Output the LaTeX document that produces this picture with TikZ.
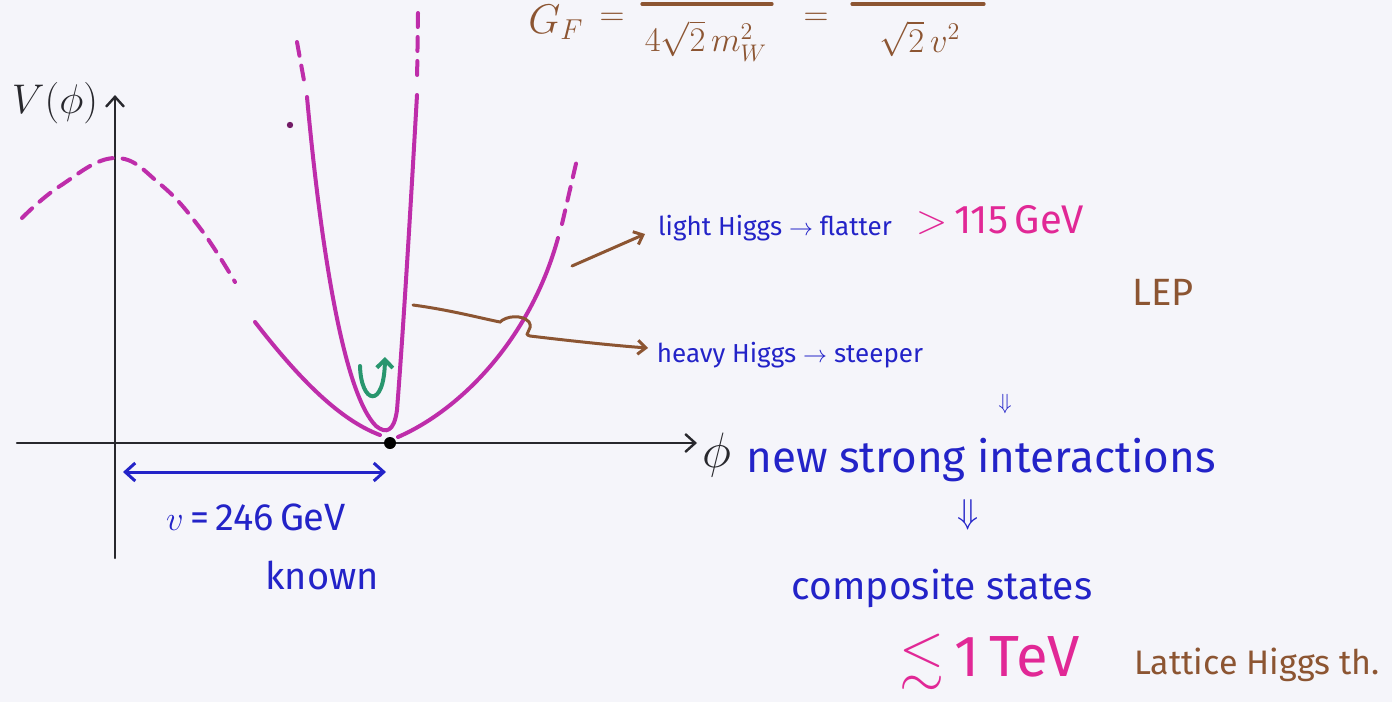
\documentclass[tikz,border=0pt]{standalone}
\usepackage{amssymb}
\usepackage{fontspec}
\setmainfont{Fira Sans}
\usetikzlibrary{arrows.meta}
\definecolor{bgC}{RGB}{245,245,250}
\definecolor{curveC}{RGB}{190,45,170}
\definecolor{pinkT}{RGB}{225,40,150}
\definecolor{blueT}{RGB}{35,35,200}
\definecolor{brownT}{RGB}{140,85,50}
\definecolor{greenT}{RGB}{40,150,110}
\definecolor{inkC}{RGB}{40,40,45}
\begin{document}
\begin{tikzpicture}[x=0.5pt,y=-0.5pt,
  axis/.style={draw=inkC,line width=1.2pt,line cap=round},
  curve/.style={draw=curveC,line width=2pt,line cap=round},
  dcurve/.style={curve,dash pattern=on 7pt off 5pt},
  blueline/.style={draw=blueT,line width=1.5pt,line cap=round},
  brownline/.style={draw=brownT,line width=1.5pt,line cap=round},
  greenline/.style={draw=greenT,line width=2pt,line cap=round},
  barb/.style={-{Straight Barb[length=5pt,width=9pt]}},
  lbl/.style={inner sep=0pt,anchor=center},
  bluetxt/.style={lbl,text=blueT},
  browntxt/.style={lbl,text=brownT},
  pinktxt/.style={lbl,text=pinkT},
  fracbar/.style={draw=brownT,line width=1.6pt,line cap=round}]
\fill[bgC] (0,0) rectangle (1392,702);
\useasboundingbox (0,0) rectangle (1392,702);
\clip (0,0) rectangle (1392,702);

% formula at the top
\node[browntxt,font=\fontsize{21}{24}\selectfont] (gf) at (556,22) {$G_F$};
\node[browntxt,font=\fontsize{17}{20}\selectfont] (eq1) at (612,19) {$=$};
\node[browntxt,font=\fontsize{18}{22}\selectfont] (den1) at (706,41) {$4\sqrt{2}\,m_W^2$};
\node[browntxt,font=\fontsize{17}{20}\selectfont] (eq2) at (816,19) {$=$};
\node[browntxt,font=\fontsize{18}{22}\selectfont] (den2) at (920,39) {$\sqrt{2}\,v^2$};
\coordinate (b1l) at (642,4); \coordinate (b1r) at (772,4);
\coordinate (b2l) at (852,4); \coordinate (b2r) at (984,4);
\draw[fracbar] (b1l) -- (b1r);
\draw[fracbar] (b2l) -- (b2r);

% axes
\coordinate (ybot) at (115,558);
\coordinate (ytop) at (115,95);
\coordinate (xl) at (17,443);
\coordinate (xr) at (697,443);
\draw[axis,barb] (ybot) -- (ytop);
\draw[axis,barb] (xl) -- (xr);
\node[lbl,text=inkC,font=\fontsize{22}{24}\selectfont] (vphi) at (55,103) {$V(\phi)$};
\node[lbl,text=inkC,font=\fontsize{24}{26}\selectfont] (phi) at (717,455) {$\phi$};

% dashed hump
\draw[dcurve] plot[smooth,tension=0.7] coordinates {(22,218) (60,186) (115,158) (160,184) (200,228) (235,282)};

% wide (light Higgs) parabola
\draw[curve] (255,322) .. controls (300,380) and (340,420) .. (380,435);
\draw[curve] (398,437) .. controls (460,410) and (530,340) .. (558,238);
\draw[dcurve] (562,224) -- (578,155);

% narrow (heavy Higgs) parabola
\draw[curve] (307,97) .. controls (322,260) and (345,395) .. (376,426)
  .. controls (386,434) and (394,432) .. (397,410)
  .. controls (404,320) and (411,200) .. (417,95);
\draw[dcurve] (297,42) -- (305,86);
\draw[dcurve] (418,13) -- (417,84);
\fill[curveC!60!black] (290,125) circle (1.6pt);

% minimum
\node[circle,fill=black,inner sep=0pt,minimum size=6pt] (vev) at (390,443) {};

% green arrow
\coordinate (ga) at (360,366);
\coordinate (gb) at (385,357);
\draw[greenline,-{Straight Barb[length=4pt,width=8pt]}] (ga) .. controls (361,404) and (384,410) .. (gb);

% v arrow
\coordinate (va) at (123,472);
\coordinate (vb) at (386,472);
\draw[blueline,{Straight Barb[length=5pt,width=9pt]}-{Straight Barb[length=5pt,width=9pt]}] (va) -- (vb);
\node[bluetxt,font=\fontsize{19}{22}\selectfont] (vval) at (256,517) {$v$\,=\,246\,GeV};
\node[bluetxt,font=\fontsize{19}{22}\selectfont] (known) at (322,575) {known};

% right-hand texts
\node[bluetxt,font=\fontsize{13}{16}\selectfont] (light) at (775,228) {light Higgs $\rightarrow$ flatter};
\node[pinktxt,font=\fontsize{20}{24}\selectfont] (lep115) at (1000,220) {$>$\,115\,GeV};
\node[browntxt,font=\fontsize{19}{22}\selectfont] (lep) at (1163,292) {LEP};
\node[bluetxt,font=\fontsize{13}{16}\selectfont] (heavy) at (790,355) {heavy Higgs $\rightarrow$ steeper};
\node[bluetxt,font=\fontsize{11}{13}\selectfont] (dd1) at (1005,404) {$\Downarrow$};
\node[bluetxt,font=\fontsize{22}{26}\selectfont] (strong) at (981,460) {new strong interactions};
\node[bluetxt,font=\fontsize{17}{20}\selectfont] (dd2) at (968,515) {$\Downarrow$};
\node[bluetxt,font=\fontsize{19.5}{22}\selectfont] (comp) at (942,588) {composite states};
\node[pinktxt,font=\fontsize{29}{32}\selectfont] (tev) at (990,662) {$\lesssim$\,1\,TeV};
\node[browntxt,font=\fontsize{17}{20}\selectfont] (latt) at (1257,665) {Lattice Higgs th.};

% brown pointers
\coordinate (la) at (572,266);
\coordinate (lb) at (645,234);
\draw[brownline,-{Straight Barb[length=4pt,width=7pt]}] (la) -- (lb);
\coordinate (ha) at (413,305);
\coordinate (hb) at (648,348);
\draw[brownline,-{Straight Barb[length=4pt,width=7pt]}] (ha) .. controls (450,310) and (480,318) .. (500,322)
  .. controls (506,316) and (522,314) .. (529,322)
  .. controls (534,330) and (522,334) .. (530,336)
  .. controls (580,342) and (620,346) .. (hb);
\end{tikzpicture}
\end{document}
